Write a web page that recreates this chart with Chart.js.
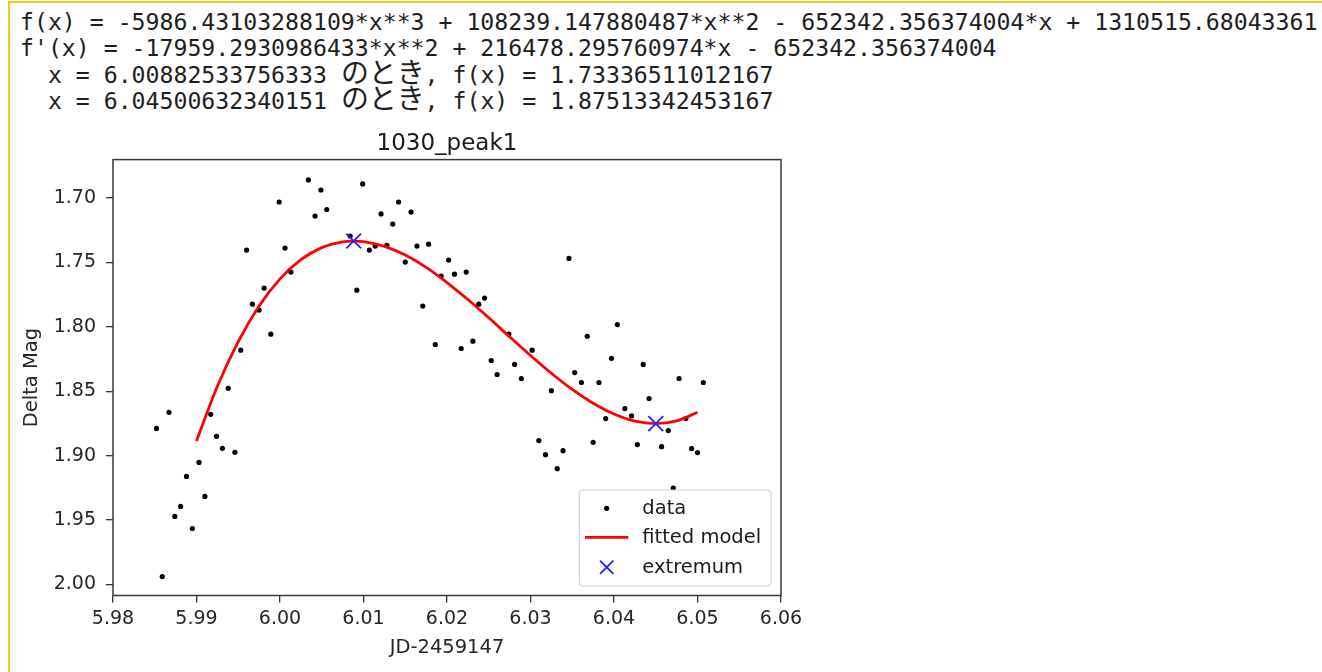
<!DOCTYPE html>
<html><head><meta charset="utf-8">
<script src="https://cdn.jsdelivr.net/npm/chart.js@4.4.0/dist/chart.umd.min.js"></script>
<style>
html,body{margin:0;padding:0;background:#fff;width:1322px;height:672px;overflow:hidden;}
#frame{position:absolute;left:8px;top:1px;width:1314px;height:671px;border-left:2px solid #f7c325;border-top:2px solid #f7c325;box-sizing:border-box;}
#out{position:absolute;left:20px;top:9px;font-family:"DejaVu Sans Mono",monospace;font-size:23.2px;color:#1e1e1e;}
#out .ln{display:block;height:26.3px;line-height:26.3px;white-space:pre;}
#out .jp{font-family:"Noto Sans CJK JP";line-height:0;}
#wrap{position:absolute;left:0;top:0;width:1322px;height:672px;}
</style></head><body>
<div id="frame"></div>
<div id="out"></div>
<div id="wrap"><canvas id="c" width="1322" height="672"></canvas></div>
<script>
// ---- text output lines ----
const outputLines = [
  "f(x) = -5986.43103288109*x**3 + 108239.147880487*x**2 - 652342.356374004*x + 1310515.68043361",
  "f'(x) = -17959.2930986433*x**2 + 216478.295760974*x - 652342.356374004",
  "  x = 6.00882533756333 のとき, f(x) = 1.73336511012167",
  "  x = 6.04500632340151 のとき, f(x) = 1.87513342453167"
];
const chartTitle = "1030_peak1";
const xTitle = "JD-2459147";
const yTitle = "Delta Mag";
const seriesLabels = ["data", "fitted model", "extremum"];

// ---- tick values ----
const xTicks = [5.98, 5.99, 6.00, 6.01, 6.02, 6.03, 6.04, 6.05, 6.06];
const yTicks = [1.70, 1.75, 1.80, 1.85, 1.90, 1.95, 2.00];

// ---- observed data ----
const xData = [5.9852, 5.9859, 5.9867, 5.9874, 5.9881, 5.9888, 5.9895, 5.9903, 5.9910, 5.9917,
  5.9924, 5.9931, 5.9938, 5.9946, 5.9953, 5.9960, 5.9967, 5.9975, 5.9981, 5.9989,
  5.9999, 6.0006, 6.0013, 6.0034, 6.0042, 6.0049, 6.0056, 6.0084, 6.0092, 6.0099,
  6.0107, 6.0114, 6.0121, 6.0128, 6.0135, 6.0142, 6.0150, 6.0157, 6.0164, 6.0171,
  6.0178, 6.0186, 6.0193, 6.0202, 6.0209, 6.0217, 6.0223, 6.0231, 6.0238, 6.0245,
  6.0253, 6.0260, 6.0274, 6.0281, 6.0289, 6.0302, 6.0310, 6.0318, 6.0325, 6.0332,
  6.0339, 6.0346, 6.0353, 6.0361, 6.0368, 6.0375, 6.0382, 6.0390, 6.0397, 6.0404,
  6.0413, 6.0421, 6.0428, 6.0435, 6.0442, 6.0457, 6.0465, 6.0471, 6.0478, 6.0486,
  6.0493, 6.0500, 6.0507];
const yData = [1.8788, 1.9938, 1.8663, 1.9471, 1.9394, 1.9161, 1.9565, 1.9052, 1.9316, 1.8679,
  1.8850, 1.8943, 1.8477, 1.8974, 1.8181, 1.7404, 1.7824, 1.7870, 1.7699, 1.8057,
  1.7031, 1.7389, 1.7575, 1.6860, 1.7140, 1.6938, 1.7090, 1.7295, 1.7715, 1.6891,
  1.7404, 1.7373, 1.7124, 1.7368, 1.7202, 1.7031, 1.7497, 1.7109, 1.7373, 1.7839,
  1.7358, 1.8137, 1.7606, 1.7482, 1.7591, 1.8168, 1.7575, 1.8111, 1.7824, 1.7777,
  1.8261, 1.8370, 1.8057, 1.8292, 1.8401, 1.8181, 1.8883, 1.8992, 1.8495, 1.9101,
  1.8961, 1.7469, 1.8355, 1.8432, 1.8073, 1.8896, 1.8432, 1.8712, 1.8244, 1.7982,
  1.8634, 1.8691, 1.8914, 1.8292, 1.8557, 1.8930, 1.8805, 1.9251, 1.8401, 1.8712,
  1.8945, 1.8976, 1.8432];

// ---- fitted model curve ----
const fitX = [5.99, 5.9925, 5.995, 5.9975, 6.0, 6.0025, 6.005, 6.0075, 6.0088, 6.01,
  6.0125, 6.015, 6.0175, 6.02, 6.0225, 6.025, 6.0275, 6.03, 6.0325, 6.035,
  6.0375, 6.04, 6.0425, 6.045, 6.0475, 6.05];
const fitY = [1.8885, 1.8461, 1.8114, 1.7838, 1.7628, 1.7479, 1.7385, 1.7340, 1.7334, 1.7338,
  1.7375, 1.7443, 1.7539, 1.7656, 1.7788, 1.7930, 1.8077, 1.8222, 1.8360, 1.8486,
  1.8593, 1.8677, 1.8732, 1.8751, 1.8730, 1.8663];

// ---- extrema ----
const extX = [6.00882533756333, 6.04500632340151];
const extY = [1.73336511012167, 1.87513342453167];

// ---- build text block ----
(function(){
  const out = document.getElementById('out');
  const mc = document.createElement('canvas').getContext('2d');
  mc.font = '100px "DejaVu Sans Mono", monospace';
  const cellEm = mc.measureText('0').width / 100;
  const fs = 13.957 / cellEm;
  out.style.fontSize = fs + 'px';
  const cell = cellEm * fs;
  mc.font = '100px "Noto Sans CJK JP"';
  const jpEm = mc.measureText('の').width / 100;
  const jpSize = (2 * cell) / jpEm;
  outputLines.forEach((line) => {
    const ln = document.createElement('div');
    ln.className = 'ln';
    const parts = line.split(/([\u3040-\u30ff\u4e00-\u9fff]+)/);
    parts.forEach(p => {
      if (!p) return;
      if (/[\u3040-\u30ff\u4e00-\u9fff]/.test(p)) {
        const s = document.createElement('span');
        s.className = 'jp';
        s.style.fontSize = jpSize + 'px';
        s.textContent = p;
        ln.appendChild(s);
      } else {
        ln.appendChild(document.createTextNode(p));
      }
    });
    out.appendChild(ln);
  });
})();

// ---- plugins ----
const framePlugin = {
  id: 'frame',
  afterDatasetsDraw(ch) {
    const {ctx, chartArea: a} = ch;
    ctx.save();
    ctx.strokeStyle = '#3a3a3a';
    ctx.lineWidth = 1.5;
    ctx.strokeRect(a.left, a.top, a.right - a.left, a.bottom - a.top);
    ctx.restore();
  }
};
const legendPlugin = {
  id: 'mplLegend',
  afterDraw(ch) {
    const {ctx, chartArea: a} = ch;
    const right = a.right - 10, bottom = a.bottom - 9.5, w = 191.7, h = 96;
    const left = right - w, top = bottom - h, r = 4;
    ctx.save();
    ctx.beginPath();
    ctx.moveTo(left + r, top);
    ctx.arcTo(right, top, right, bottom, r);
    ctx.arcTo(right, bottom, left, bottom, r);
    ctx.arcTo(left, bottom, left, top, r);
    ctx.arcTo(left, top, right, top, r);
    ctx.closePath();
    ctx.fillStyle = 'rgba(255,255,255,0.8)';
    ctx.fill();
    ctx.strokeStyle = '#d4d4d4';
    ctx.lineWidth = 1.2;
    ctx.stroke();
    const rows = [18.3, 47.3, 77.3];
    const sx = left + 27.4;
    ctx.font = '19.5px "DejaVu Sans"';
    ctx.textBaseline = 'middle';
    ctx.textAlign = 'left';
    ch.data.datasets.forEach((ds, i) => {
      const y = top + rows[i];
      if (ds.showLine) {
        ctx.beginPath();
        ctx.moveTo(left + 5.7, y);
        ctx.lineTo(left + 49, y);
        ctx.strokeStyle = ds.borderColor;
        ctx.lineWidth = ds.borderWidth;
        ctx.stroke();
      } else if (ds.pointStyle === 'crossRot') {
        const d = ds.pointRadius * Math.SQRT1_2 * 0.9;
        ctx.beginPath();
        ctx.moveTo(sx - d, y - d); ctx.lineTo(sx + d, y + d);
        ctx.moveTo(sx + d, y - d); ctx.lineTo(sx - d, y + d);
        ctx.strokeStyle = ds.borderColor;
        ctx.lineWidth = ds.pointBorderWidth;
        ctx.stroke();
      } else {
        ctx.beginPath();
        ctx.arc(sx, y, ds.pointRadius, 0, Math.PI * 2);
        ctx.fillStyle = ds.pointBackgroundColor;
        ctx.fill();
      }
      ctx.fillStyle = '#1a1a1a';
      ctx.fillText(ds.label, left + 63, y + 1);
    });
    ctx.restore();
  }
};

const tickFont = {family: 'DejaVu Sans', size: 19};
const labelFont = {family: 'DejaVu Sans', size: 19.5};
const gridOpts = {display: true, drawOnChartArea: false, drawTicks: true, tickLength: 7, color: '#333', lineWidth: 1.3};

new Chart(document.getElementById('c'), {
  type: 'scatter',
  data: {
    datasets: [
      {label: seriesLabels[0], data: xData.map((x, i) => ({x: x, y: yData[i]})),
       pointRadius: 2.6, pointBackgroundColor: '#000', borderColor: '#000', pointBorderWidth: 0, showLine: false, order: 3},
      {label: seriesLabels[1], data: fitX.map((x, i) => ({x: x, y: fitY[i]})),
       showLine: true, borderColor: '#ff0000', borderWidth: 2.8, pointRadius: 0, cubicInterpolationMode: 'monotone', order: 2},
      {label: seriesLabels[2], data: extX.map((x, i) => ({x: x, y: extY[i]})),
       pointStyle: 'crossRot', pointRadius: 10.5, borderColor: '#2222ff', pointBorderColor: '#2222ff', pointBorderWidth: 1.8, showLine: false, order: 1}
    ]
  },
  options: {
    responsive: false, animation: false, devicePixelRatio: 1,
    layout: {padding: {left: 0, top: 130, right: 541, bottom: 0}},
    plugins: {
      legend: {display: false},
      tooltip: {enabled: false},
      title: {display: true, text: chartTitle, fullSize: false, color: '#1a1a1a',
        font: {family: 'DejaVu Sans', size: 23, weight: 'normal'}, padding: {top: 0, bottom: 2}}
    },
    scales: {
      x: {
        type: 'linear', min: 5.98, max: 6.06,
        afterFit: s => { s.height = 76.5; },
        afterBuildTicks: s => { s.ticks = xTicks.map(v => ({value: v})); },
        ticks: {callback: v => Number(v).toFixed(2), font: tickFont, color: '#262626', padding: 5, maxRotation: 0, autoSkip: false},
        grid: gridOpts,
        border: {display: false},
        title: {display: true, text: xTitle, font: labelFont, color: '#262626', padding: {top: 0, bottom: 12.3}}
      },
      y: {
        type: 'linear', reverse: true, min: 1.6702, max: 2.0085,
        afterFit: s => { s.width = 113; },
        afterBuildTicks: s => { s.ticks = yTicks.map(v => ({value: v})); },
        ticks: {callback: v => Number(v).toFixed(2), font: tickFont, color: '#262626', padding: 10, autoSkip: false},
        grid: gridOpts,
        border: {display: false},
        title: {display: true, text: yTitle, font: labelFont, color: '#262626', padding: {top: 20, bottom: 0}}
      }
    }
  },
  plugins: [framePlugin, legendPlugin]
});
</script>
</body></html>
